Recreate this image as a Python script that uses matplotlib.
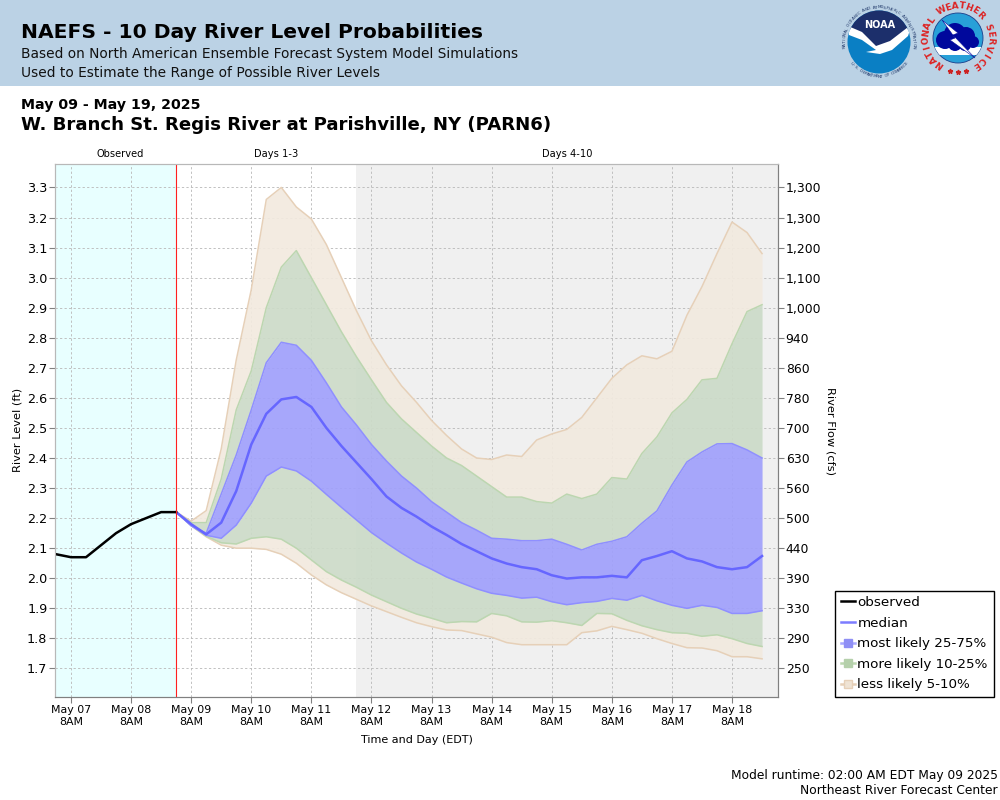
import numpy as np
import pandas as pd
import matplotlib
matplotlib.use('Agg')
import matplotlib.pyplot as plt
from matplotlib.lines import Line2D
from matplotlib.patches import Rectangle, Circle, Polygon

# observed stage, every 6 hours from May 07 2AM
obs_level = [2.08, 2.07, 2.07, 2.11, 2.15, 2.18, 2.20, 2.22, 2.22]

# forecast, every 6 hours from May 09 2AM
median = [2.22, 2.18, 2.146, 2.185, 2.29, 2.445, 2.547, 2.595, 2.603, 2.57, 2.50, 2.44, 2.385, 2.33,
          2.272, 2.234, 2.205, 2.172, 2.144, 2.114, 2.09, 2.066, 2.049, 2.037, 2.03, 2.01, 1.999, 2.003,
          2.003, 2.008, 2.003, 2.06, 2.074, 2.09, 2.066, 2.056, 2.037, 2.03, 2.037, 2.074]
p75 = [2.22, 2.175, 2.15, 2.28, 2.41, 2.56, 2.717, 2.785, 2.775, 2.725, 2.65, 2.57, 2.51, 2.445,
       2.39, 2.34, 2.30, 2.255, 2.22, 2.185, 2.16, 2.133, 2.13, 2.125, 2.125, 2.13, 2.113, 2.094,
       2.113, 2.123, 2.138, 2.183, 2.224, 2.31, 2.387, 2.42, 2.447, 2.448, 2.427, 2.40]
p25 = [2.22, 2.175, 2.143, 2.133, 2.177, 2.25, 2.34, 2.37, 2.357, 2.323, 2.279, 2.236, 2.194, 2.152,
       2.117, 2.084, 2.054, 2.03, 2.004, 1.984, 1.965, 1.95, 1.943, 1.934, 1.937, 1.922, 1.912, 1.919,
       1.923, 1.933, 1.927, 1.943, 1.925, 1.91, 1.90, 1.91, 1.903, 1.883, 1.883, 1.892]
p90 = [2.22, 2.185, 2.185, 2.33, 2.56, 2.69, 2.90, 3.035, 3.09, 3.0, 2.91, 2.82, 2.737, 2.66,
       2.585, 2.53, 2.485, 2.44, 2.40, 2.375, 2.34, 2.305, 2.27, 2.27, 2.255, 2.25, 2.28, 2.265,
       2.28, 2.335, 2.33, 2.415, 2.47, 2.55, 2.595, 2.66, 2.665, 2.78, 2.887, 2.91]
p10 = [2.22, 2.175, 2.14, 2.118, 2.114, 2.133, 2.138, 2.13, 2.10, 2.061, 2.022, 1.994, 1.97, 1.944,
       1.922, 1.90, 1.881, 1.867, 1.852, 1.856, 1.855, 1.883, 1.875, 1.855, 1.854, 1.859, 1.852, 1.843,
       1.883, 1.882, 1.86, 1.842, 1.829, 1.819, 1.817, 1.807, 1.812, 1.799, 1.783, 1.773]
p95 = [2.22, 2.19, 2.225, 2.43, 2.726, 2.96, 3.26, 3.30, 3.235, 3.195, 3.11, 3.00, 2.89, 2.79,
       2.71, 2.64, 2.585, 2.525, 2.475, 2.43, 2.40, 2.395, 2.41, 2.405, 2.46, 2.48, 2.495, 2.535,
       2.60, 2.665, 2.71, 2.74, 2.73, 2.755, 2.875, 2.97, 3.08, 3.185, 3.15, 3.08]
p05 = [2.22, 2.175, 2.138, 2.11, 2.10, 2.10, 2.096, 2.08, 2.05, 2.011, 1.978, 1.952, 1.93, 1.908,
       1.889, 1.87, 1.852, 1.839, 1.828, 1.826, 1.815, 1.804, 1.786, 1.779, 1.779, 1.779, 1.779, 1.819,
       1.825, 1.84, 1.829, 1.817, 1.799, 1.783, 1.769, 1.768, 1.759, 1.739, 1.739, 1.732]

level_ticks = [1.7, 1.8, 1.9, 2.0, 2.1, 2.2, 2.3, 2.4, 2.5, 2.6, 2.7, 2.8, 2.9, 3.0, 3.1, 3.2, 3.3]
flow_labels = ['250', '290', '330', '390', '440', '500', '560', '630', '700', '780', '860', '940',
               '1,000', '1,100', '1,200', '1,300', '1,300']

legend_names = ['observed', 'median', 'most likely 25-75%', 'more likely 10-25%', 'less likely 5-10%']

obs_time = pd.date_range('2025-05-07 02:00', periods=len(obs_level), freq='6h')
fc_time = pd.date_range('2025-05-09 02:00', periods=len(median), freq='6h')
tick_days = pd.date_range('2025-05-07 08:00', periods=12, freq='D')
t_now = pd.Timestamp('2025-05-09 02:00')
t_ext = pd.Timestamp('2025-05-12 02:00')
t_start = pd.Timestamp('2025-05-07 01:37')
t_end = pd.Timestamp('2025-05-19 02:22')

BLUE = (0.627, 0.627, 0.984, 0.92)
GREEN = (0.80, 0.86, 0.785, 0.92)
TAN = (0.95, 0.918, 0.875, 0.92)

plt.rcParams['font.family'] = 'DejaVu Sans'
fig = plt.figure(figsize=(10, 8), dpi=100)

# header, logos and free text in pixel coordinates
bg = fig.add_axes([0, 0, 1, 1])
bg.set_xlim(0, 1000)
bg.set_ylim(800, 0)
bg.axis('off')
bg.add_patch(Rectangle((0, 0), 1000, 86, color='#bbd2e5', lw=0))

bg.text(21, 33, 'NAEFS - 10 Day River Level Probabilities', fontsize=14.6, fontweight='bold', va='center')
bg.text(21, 54, 'Based on North American Ensemble Forecast System Model Simulations', fontsize=9.95, va='center', color='#111111')
bg.text(21, 73, 'Used to Estimate the Range of Possible River Levels', fontsize=9.95, va='center', color='#111111')
bg.text(21, 105, 'May 09 - May 19, 2025', fontsize=10.15, fontweight='bold', va='center')
bg.text(21, 125, 'W. Branch St. Regis River at Parishville, NY (PARN6)', fontsize=13.1, fontweight='bold', va='center')
bg.text(120, 154, 'Observed', fontsize=7.1, ha='center', va='center')
bg.text(276, 154, 'Days 1-3', fontsize=7.1, ha='center', va='center')
bg.text(567, 154, 'Days 4-10', fontsize=7.1, ha='center', va='center')
bg.text(998, 775, 'Model runtime: 02:00 AM EDT May 09 2025', fontsize=8.8, ha='right', va='center')
bg.text(998, 791, 'Northeast River Forecast Center', fontsize=8.8, ha='right', va='center')
bg.text(831, 431, 'River Flow (cfs)', fontsize=8.2, rotation=270, ha='center', va='center')
bg.text(18, 430, 'River Level (ft)', fontsize=8.2, rotation=90, ha='center', va='center')
bg.text(417, 740, 'Time and Day (EDT)', fontsize=8, ha='center', va='center')


def arc_text(s, cx, cy, r, a0, a1, size, color, weight='normal', bottom=False):
    angles = np.linspace(a0, a1, len(s))
    for ch, a in zip(s, angles):
        x = cx + r * np.cos(np.radians(a))
        y = cy - r * np.sin(np.radians(a))
        rot = a + 90 if bottom else a - 90
        bg.text(x, y, ch, fontsize=size, color=color, fontweight=weight, rotation=rot,
                rotation_mode='anchor', ha='center', va='center')


# NOAA logo
cx, cy = 879, 42
bg.add_patch(Circle((cx, cy), 31.5, fc='#0a7fc4', ec='none'))
disc = Circle((cx, cy), 31.5, transform=bg.transData)
navy = Polygon([(846, 8), (912, 8), (912, 27), (890, 45), (876, 48), (846, 27)], fc='#1c2f6b', ec='none')
bg.add_patch(navy)
navy.set_clip_path(disc)
wing = Polygon([(848, 26), (862, 32), (876, 46), (890, 41), (912, 24), (908, 36), (892, 50), (880, 54),
                (866, 52), (876, 50), (862, 40), (849, 35)], fc='white', ec='none')
bg.add_patch(wing)
wing.set_clip_path(disc)
bg.text(cx + 1, 25, 'NOAA', fontsize=7, color='white', fontweight='bold', ha='center', va='center')
arc_text('NATIONAL OCEANIC AND ATMOSPHERIC ADMINISTRATION', cx, cy, 34.5, 188, -8, 3.1, '#223a6b')
arc_text('U.S. DEPARTMENT OF COMMERCE', cx, cy, 34.5, 218, 322, 3.1, '#223a6b', bottom=True)

# NWS logo
cx, cy = 958, 38
face = Circle((cx, cy), 25, fc='#28a0d8', ec='#1a3d8a', lw=0.6)
bg.add_patch(face)
clip = Circle((cx, cy), 25, transform=bg.transData)
low = Polygon([(930, 47), (985, 47), (985, 55), (930, 55)], fc='white', ec='none')
bg.add_patch(low)
low.set_clip_path(clip)
cloud_parts = [(945, 40, 9), (955, 34, 11), (966, 36, 9), (973, 42, 6), (955, 44, 7), (965, 45, 6)]
for px, py, pr in cloud_parts:
    bg.add_patch(Circle((px, py), pr, fc='#00089c', ec='none'))
bg.add_patch(Polygon([(942, 20), (958, 33), (953, 35), (975, 58), (950, 40), (955, 38)], fc='white', ec='#00089c', lw=0.4))
arc_text('NATIONAL WEATHER SERVICE', cx, cy, 32, 234, -56, 6.4, '#dd2222', weight='bold')
bg.plot([950, 958, 966], [71, 72, 71], ls='none', marker='*', ms=3.5, color='#cc2222')

# main plot
ax = fig.add_axes([0.055, 1 - 697 / 800, 0.723, 533 / 800])
ax.patch.set_alpha(0)
ax.axvspan(t_start, t_now, color='#e8ffff', lw=0, zorder=0)
ax.axvspan(t_ext, t_end, color='#f0f0f0', lw=0, zorder=0)

ax.set_axisbelow(True)
ax.grid(True, color='#bcbcbc', ls=(0, (2.5, 2.5)), lw=0.65)

ax.fill_between(fc_time, p90, p95, color=TAN, lw=0, zorder=2)
ax.fill_between(fc_time, p05, p10, color=TAN, lw=0, zorder=2)
ax.fill_between(fc_time, p75, p90, color=GREEN, lw=0, zorder=2)
ax.fill_between(fc_time, p10, p25, color=GREEN, lw=0, zorder=2)
ax.fill_between(fc_time, p25, p75, color=BLUE, lw=0, zorder=2)

for upper, lower, c in [(p95, p05, '#e6d0b8'), (p90, p10, '#bcd6b0'), (p75, p25, '#8f8fff')]:
    ax.plot(fc_time, upper, color=c, lw=1.1, zorder=3)
    ax.plot(fc_time, lower, color=c, lw=1.1, zorder=3)

ax.plot(fc_time, median, color='#6666ff', lw=1.8, zorder=4)
ax.plot(obs_time, obs_level, color='black', lw=1.8, zorder=4)
ax.axvline(t_now, color='#ff2020', lw=0.8, zorder=5)

ax.set_xlim(t_start, t_end)
ax.set_ylim(1.605, 3.378)
ax.set_yticks(level_ticks)
ax.set_yticklabels(['%.1f' % v for v in level_ticks])
ax.set_xticks(tick_days)
ax.set_xticklabels([d.strftime('%b %d') + '\n8AM' for d in tick_days])
ax.tick_params(axis='y', labelsize=9.2, length=4, color='#808080', pad=1.5)
ax.tick_params(axis='x', labelsize=7.9, length=4, color='#808080', pad=2)

ax2 = ax.twinx()
ax2.set_ylim(ax.get_ylim())
ax2.set_yticks(level_ticks)
ax2.set_yticklabels(flow_labels)
ax2.tick_params(axis='y', labelsize=8.9, length=4, color='#808080', pad=1.5)

for a in (ax, ax2):
    a.spines['top'].set_color('#b8b8b8')
    a.spines['left'].set_color('#b8b8b8')
    a.spines['right'].set_color('#808080')
    a.spines['bottom'].set_color('#808080')

handles = [
    Line2D([], [], color='black', lw=1.8),
    Line2D([], [], color='#7c7cff', lw=1.8),
    Line2D([], [], color='#a8a8ff', lw=1.8, marker='s', ms=6, mfc='#8f8ff5', mec='#8f8ff5'),
    Line2D([], [], color='#bcd6b0', lw=1.8, marker='s', ms=6, mfc='#b5d0ab', mec='#b5d0ab'),
    Line2D([], [], color='#e6d0b8', lw=1.8, marker='s', ms=6, mfc='#efe3d4', mec='#e6d0b8'),
]
leg = fig.legend(handles, legend_names, loc='lower left', bbox_to_anchor=(0.835, 1 - 697 / 800),
                 borderaxespad=0, fancybox=False, edgecolor='black', framealpha=1, fontsize=9.7,
                 handlelength=1.1, handletextpad=0.15, labelspacing=0.56, borderpad=0.42)
leg.get_frame().set_linewidth(1)

fig.savefig('out.png', dpi=100)
